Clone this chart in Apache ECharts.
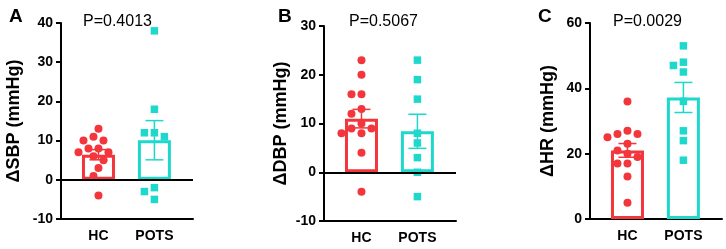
<!DOCTYPE html>
<html>
<head>
    <meta charset="utf-8">
    <title>ECharts</title>
    <script src="https://cdn.jsdelivr.net/npm/echarts/dist/echarts.min.js"></script>
</head>
<body style="margin:0">
    <div id="main" style="width: 726px;height:249px;"></div>
    <script>
        // groups and panel data
        var groups = ['HC', 'POTS'];
        var panelLetters = ['A', 'B', 'C'];
        var yTitles = ['ΔSBP (mmHg)', 'ΔDBP (mmHg)', 'ΔHR (mmHg)'];
        var pValues = ['P=0.4013', 'P=0.5067', 'P=0.0029'];

        var sbpHC = [13, 11, 10, 10, 8, 8, 7, 7, 6, 5, 3, 1, -4];
        var sbpPOTS = [38, 18, 12, 11, 12, -2, -3, -5];
        var dbpHC = [23, 20, 16, 16, 13, 12, 10, 9, 9, 8, 8, 4, -4];
        var dbpPOTS = [23, 19, 15, 8, 6, 3, 0, -5];
        var hrHC = [36, 27, 26, 26, 25, 23, 21, 20, 19, 17, 17, 13, 5];
        var hrPOTS = [53, 48, 47, 45, 36, 27, 24, 18];

        // mean and SEM as drawn
        var sbpMean = [6.4, 10.1];
        var sbpSem = [1.3, 5.0];
        var dbpMean = [11.0, 8.4];
        var dbpSem = [1.9, 3.5];
        var hrMean = [21.0, 37.2];
        var hrSem = [2.1, 4.6];

        var yRanges = [[-10, 40, 10], [-10, 30, 10], [0, 60, 20]];

        var RED = '#f2363c';
        var CYAN = '#1fd8cc';
        var colors = [RED, CYAN];
        var FONT = 'Liberation Sans, Arial, sans-serif';

        var panels = [
            { pts: [sbpHC, sbpPOTS], mean: sbpMean, sem: sbpSem, left: 61, top: 23, height: 196, nameGap: 38 },
            { pts: [dbpHC, dbpPOTS], mean: dbpMean, sem: dbpSem, left: 324, top: 26, height: 195, nameGap: 34 },
            { pts: [hrHC, hrPOTS], mean: hrMean, sem: hrSem, left: 590, top: 23, height: 196, nameGap: 33 }
        ];

        var X_MIN = -0.67, X_MAX = 1.69, GRID_W = 132;
        var xPx = GRID_W / (X_MAX - X_MIN);

        // simple beeswarm: spread overlapping dots sideways
        function swarm(vals, pxPerUnit, diam) {
            var order = vals.map(function (v, i) { return i; })
                .sort(function (a, b) { return vals[b] - vals[a]; });
            var placed = [];
            var offs = new Array(vals.length);
            order.forEach(function (i) {
                var y = vals[i] * pxPerUnit;
                for (var k = 0; k < 20; k++) {
                    var o = (k % 2 ? -1 : 1) * Math.ceil(k / 2) * 5;
                    var ok = placed.every(function (p) {
                        var dx = p[0] - o, dy = p[1] - y;
                        return Math.sqrt(dx * dx + dy * dy) >= diam;
                    });
                    if (ok) { offs[i] = o; placed.push([o, y]); break; }
                }
            });
            return offs;
        }

        var chart = echarts.init(document.getElementById('main'));
        var grid = [], xAxis = [], yAxis = [], series = [], title = [];

        panels.forEach(function (p, idx) {
            var r = yRanges[idx];
            grid.push({ left: p.left, top: p.top, width: GRID_W, height: p.height });
            xAxis.push({
                type: 'value', gridIndex: idx, min: X_MIN, max: X_MAX,
                splitLine: { show: false },
                axisLine: { show: true, onZero: false, lineStyle: { color: '#000', width: 2 } },
                axisTick: { show: false },
                axisLabel: {
                    customValues: [0, 1], margin: 10,
                    formatter: function (v) { return groups[Math.round(v)]; },
                    color: '#000', fontWeight: 'bold', fontSize: 14, fontFamily: FONT
                }
            });
            yAxis.push({
                type: 'value', gridIndex: idx, min: r[0], max: r[1], interval: r[2],
                name: yTitles[idx], nameLocation: 'middle', nameGap: p.nameGap,
                nameTextStyle: { color: '#000', fontWeight: 'bold', fontSize: 18, fontFamily: FONT },
                splitLine: { show: false },
                axisLine: { show: true, onZero: false, lineStyle: { color: '#000', width: 2 } },
                axisTick: { show: true, length: 5, lineStyle: { width: 2 } },
                axisLabel: { color: '#000', fontWeight: 'bold', fontSize: 14, fontFamily: FONT, margin: 8 }
            });

            // bars
            series.push({
                type: 'bar', xAxisIndex: idx, yAxisIndex: idx, barWidth: 33,
                data: p.mean.map(function (m, g) {
                    return { value: [g, m], itemStyle: { color: '#fff', borderColor: colors[g], borderWidth: 3 } };
                }),
                markLine: r[0] < 0 ? {
                    silent: true, symbol: 'none', label: { show: false },
                    lineStyle: { color: '#000', width: 2, type: 'solid' },
                    data: [{ yAxis: 0 }]
                } : undefined,
                z: 2
            });

            // error bars
            series.push({
                type: 'custom', xAxisIndex: idx, yAxisIndex: idx,
                data: p.mean.map(function (m, g) { return [g, m - p.sem[g], m + p.sem[g]]; }),
                renderItem: function (params, api) {
                    var g = api.value(0);
                    var lo = api.coord([g, api.value(1)]);
                    var hi = api.coord([g, api.value(2)]);
                    var w = 9;
                    var st = { stroke: colors[g], lineWidth: 1.5 };
                    return {
                        type: 'group', children: [
                            { type: 'line', shape: { x1: lo[0], y1: lo[1], x2: hi[0], y2: hi[1] }, style: st },
                            { type: 'line', shape: { x1: hi[0] - w, y1: hi[1], x2: hi[0] + w, y2: hi[1] }, style: st },
                            { type: 'line', shape: { x1: lo[0] - w, y1: lo[1], x2: lo[0] + w, y2: lo[1] }, style: st }
                        ]
                    };
                },
                z: 3
            });

            // individual points
            var yPx = p.height / (r[1] - r[0]);
            p.pts.forEach(function (vals, g) {
                var offs = swarm(vals, yPx, 8.5);
                series.push({
                    type: 'scatter', xAxisIndex: idx, yAxisIndex: idx,
                    symbol: g === 0 ? 'circle' : 'rect',
                    symbolSize: g === 0 ? 8 : 7.5,
                    itemStyle: { color: colors[g], opacity: 1 },
                    data: vals.map(function (v, i) { return [g + offs[i] / xPx, v]; }),
                    z: 4
                });
            });

            title.push({
                text: panelLetters[idx], left: [4, 273, 533][idx], top: 2,
                textStyle: { fontSize: 19, fontWeight: 'bold', color: '#000', fontFamily: FONT }
            });
            title.push({
                text: pValues[idx], left: [78, 344, 608][idx], top: 9,
                textStyle: { fontSize: 16, fontWeight: 'normal', color: '#000', fontFamily: FONT }
            });
        });

        var option = {
            animation: false,
            backgroundColor: '#fff',
            title: title,
            grid: grid,
            xAxis: xAxis,
            yAxis: yAxis,
            series: series
        };

        option && chart.setOption(option);
    </script>
</body>
</html>
